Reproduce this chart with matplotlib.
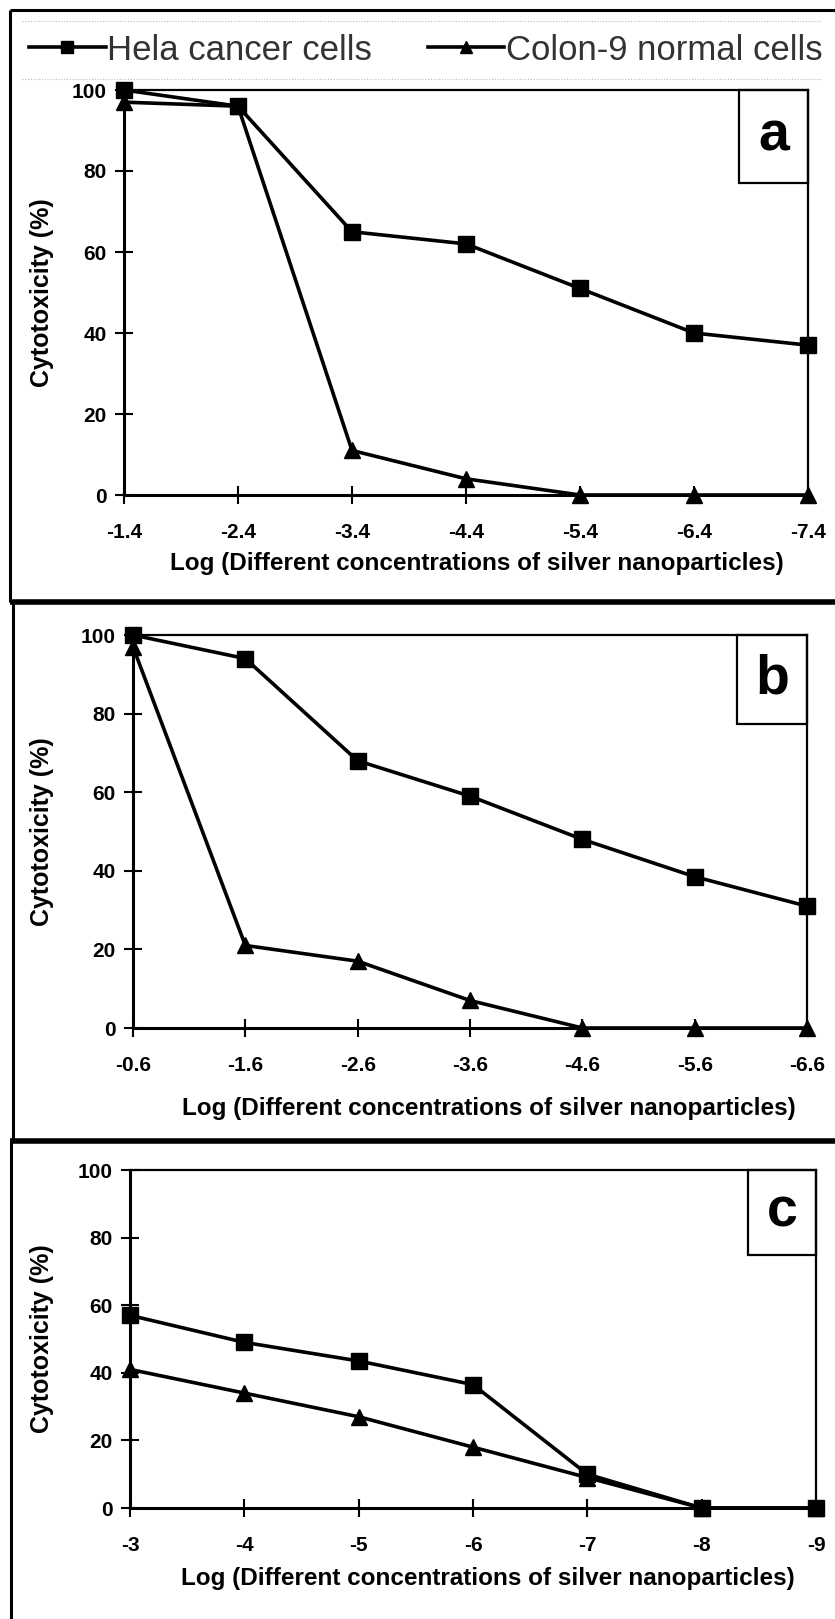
import matplotlib
matplotlib.use('Agg')
import matplotlib.pyplot as plt
from matplotlib.lines import Line2D
from matplotlib.patches import Rectangle

plt.rcParams['font.family'] = ['Liberation Sans', 'DejaVu Sans']
plt.rcParams['axes.unicode_minus'] = False

# ---- data ----
x_a = [-1.4, -2.4, -3.4, -4.4, -5.4, -6.4, -7.4]
hela_a = [100, 96, 65, 62, 51, 40, 37]
colon_a = [97, 96, 11, 4, 0, 0, 0]

x_b = [-0.6, -1.6, -2.6, -3.6, -4.6, -5.6, -6.6]
hela_b = [100, 94, 68, 59, 48, 38.5, 31]
colon_b = [97, 21, 17, 7, 0, 0, 0]

x_c = [-3, -4, -5, -6, -7, -8, -9]
hela_c = [57, 49, 43.5, 36.5, 10, 0, 0]
colon_c = [41, 34, 27, 18, 9, 0, 0]

xtick_labels = {
    'a': ['-1.4', '-2.4', '-3.4', '-4.4', '-5.4', '-6.4', '-7.4'],
    'b': ['-0.6', '-1.6', '-2.6', '-3.6', '-4.6', '-5.6', '-6.6'],
    'c': ['-3', '-4', '-5', '-6', '-7', '-8', '-9'],
}
yticks = [0, 20, 40, 60, 80, 100]
xlabel = 'Log (Different concentrations of silver nanoparticles)'
ylabel = 'Cytotoxicity (%)'

W, H = 835, 1619
fig = plt.figure(figsize=(W / 100, H / 100), dpi=100)


def px_axes(l, t, r, b):
    return fig.add_axes([l / W, 1 - b / H, (r - l) / W, (b - t) / H])


def draw_panel(ax, x, hela, colon, key, box, xlab_pos):
    ax.plot(x, colon, color='black', lw=2.6, marker='^', ms=11.5,
            clip_on=False, zorder=3, label='Colon-9 normal cells')
    ax.plot(x, hela, color='black', lw=2.6, marker='s', ms=11.5,
            clip_on=False, zorder=4, label='Hela cancer cells')
    ax.set_xlim(x[0], x[-1])
    ax.set_ylim(0, 100)
    ax.set_xticks(x)
    ax.set_xticklabels(xtick_labels[key])
    ax.set_yticks(yticks)
    for side in ['left', 'bottom']:
        ax.spines[side].set_linewidth(2.2)
    for side in ['top', 'right']:
        ax.spines[side].set_linewidth(1.6)
    ax.tick_params(direction='inout', length=13, width=1.5, labelsize=15)
    ax.tick_params(axis='x', pad=14)
    ax.tick_params(axis='y', pad=6)
    for lab in ax.get_xticklabels() + ax.get_yticklabels():
        lab.set_fontweight('bold')
    ax.set_xlabel(xlabel, fontsize=17.5, fontweight='bold')
    ax.xaxis.set_label_coords(*xlab_pos)
    ax.xaxis.label.set_va('center')
    ax.set_ylabel(ylabel, fontsize=18, fontweight='bold')
    ax.yaxis.label.set_va('center')
    # panel letter box
    bx, by = box
    ax.add_patch(Rectangle((bx, by), 1 - bx, 1 - by, transform=ax.transAxes,
                           fill=False, lw=1.6, ec='black', clip_on=False, zorder=5))
    ax.text((1 + bx) / 2, (1 + by) / 2, key, transform=ax.transAxes,
            ha='center', va='center', fontsize=40, fontweight='bold')


ax_a = px_axes(124, 90, 808, 495)
draw_panel(ax_a, x_a, hela_a, colon_a, 'a', (0.899, 0.770), (0.516, -0.170))
ax_a.yaxis.set_label_coords(-(124 - 42) / 684, 0.5)

ax_b = px_axes(133, 635, 807, 1028)
draw_panel(ax_b, x_b, hela_b, colon_b, 'b', (0.896, 0.774), (0.528, -0.205))
ax_b.yaxis.set_label_coords(-(133 - 42) / 674, 0.5)

ax_c = px_axes(130, 1170, 816, 1508)
draw_panel(ax_c, x_c, hela_c, colon_c, 'c', (0.901, 0.749), (0.521, -0.210))
ax_c.yaxis.set_label_coords(-(130 - 42) / 686, 0.5)

# legend at the top
handles, labels = ax_a.get_legend_handles_labels()
leg = fig.legend(handles[::-1], labels[::-1], loc='center', ncol=2,
                 bbox_to_anchor=(0.51, 1 - 50 / H), frameon=False,
                 fontsize=25, handlelength=2.2, handletextpad=0.05,
                 columnspacing=1.6, markerscale=0.75)
for t in leg.get_texts():
    t.set_color('#333333')

# dotted guides around the legend and the panel borders
for yy in [21, 79]:
    fig.add_artist(Line2D([22 / W, 822 / W], [1 - yy / H, 1 - yy / H],
                          transform=fig.transFigure, color='#bbbbbb',
                          lw=0.8, ls=(0, (1, 1.5))))


def border(xs, ys, lw):
    fig.add_artist(Line2D([v / W for v in xs], [1 - v / H for v in ys],
                          transform=fig.transFigure, color='black', lw=lw,
                          solid_capstyle='butt'))


border([10, W], [10, 10], 2.2)
border([10, 10], [10, 602], 2.2)
border([10, W], [602, 602], 4)
border([13, 13], [602, 1141], 2.2)
border([10, W], [1141, 1141], 4)
border([11, 11], [1141, H], 2.2)

fig.savefig('out.png', dpi=100, facecolor='white')
